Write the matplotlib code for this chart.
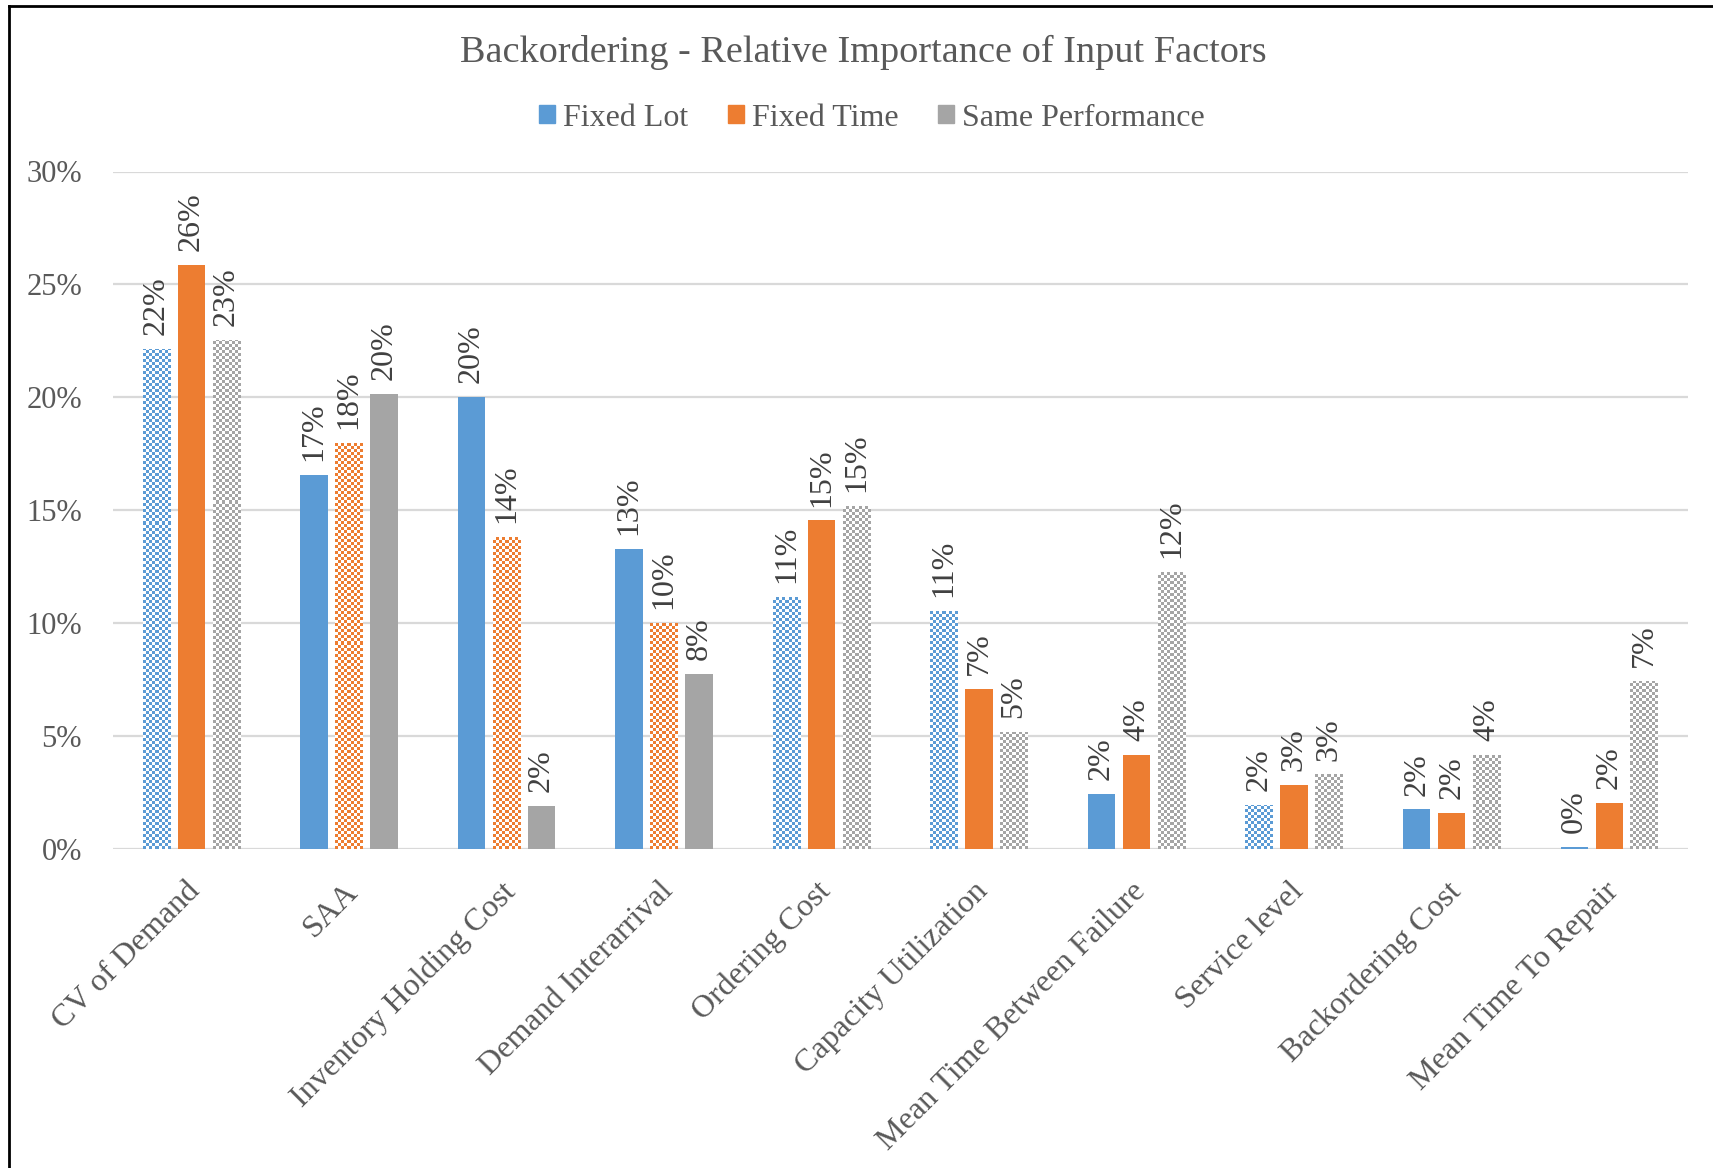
import numpy as np
import matplotlib
matplotlib.use("Agg")
import matplotlib.pyplot as plt
from matplotlib.patches import Rectangle
from matplotlib.lines import Line2D

categories = ["CV of Demand", "SAA", "Inventory Holding Cost", "Demand Interarrival",
              "Ordering Cost", "Capacity Utilization", "Mean Time Between Failure",
              "Service level", "Backordering Cost", "Mean Time To Repair"]
series_names = ["Fixed Lot", "Fixed Time", "Same Performance"]
fixed_lot = [22.15, 16.55, 20.0, 13.3, 11.15, 10.55, 2.45, 1.95, 1.75, 0.1]
fixed_time = [25.85, 18.0, 13.8, 10.0, 14.55, 7.1, 4.15, 2.85, 1.6, 2.05]
same_perf = [22.55, 20.15, 1.9, 7.75, 15.2, 5.2, 12.25, 3.3, 4.15, 7.45]
# which bars are drawn with a checkered fill
checked_lot = [1, 0, 0, 0, 1, 1, 0, 1, 0, 0]
checked_time = [0, 1, 1, 1, 0, 0, 0, 0, 0, 0]
checked_same = [1, 0, 0, 0, 1, 1, 1, 1, 1, 1]
yticks = [0, 5, 10, 15, 20, 25, 30]

colors = ["#5B9BD5", "#ED7D31", "#A5A5A5"]
TXT = "#595959"
LBL = "#404040"
plt.rcParams['font.family'] = ['Liberation Serif', 'DejaVu Serif']

W, H = 1713, 1168
fig = plt.figure(figsize=(W / 100, H / 100), dpi=100)
ax = fig.add_axes([112.5 / W, 1 - 849 / H, (1688 - 112.5) / W, (849 - 171.5) / H])
ax.set_xlim(-0.5, len(categories) - 0.5)
ax.set_ylim(0, 30)

for s in ax.spines.values():
    s.set_visible(False)
ax.set_yticks(yticks)
ax.set_yticklabels([f"{t}%" for t in yticks], fontsize=22, color=TXT)
ax.tick_params(axis='y', length=0, pad=22)
ax.tick_params(axis='x', length=0)
ax.set_xticks([])
ax.grid(axis='y', color='#D9D9D9', linewidth=1.6)
ax.set_axisbelow(True)

x = np.arange(len(categories))
step = 0.222
bw = 0.174
all_vals = [fixed_lot, fixed_time, same_perf]
all_chk = [checked_lot, checked_time, checked_same]

def px_per_unit():
    p0 = ax.transData.transform((0, 0))
    p1 = ax.transData.transform((1, 1))
    return p1[0] - p0[0], p1[1] - p0[1]

cell = 3.0
for k in range(3):
    xs = x + (k - 1) * step
    bars = ax.bar(xs, all_vals[k], width=bw, color=colors[k], zorder=2, linewidth=0)
    for i, b in enumerate(bars):
        v = all_vals[k][i]
        if all_chk[k][i]:
            b.set_facecolor("white")
            sx, sy = px_per_unit()
            wpx = bw * sx
            hpx = v * sy
            nx = max(1, int(round(wpx / cell)))
            ny = max(1, int(round(hpx / cell)))
            board = (np.add.outer(np.arange(ny), np.arange(nx)) % 2)
            rgb = np.array(matplotlib.colors.to_rgb(colors[k]))
            img = np.where(board[..., None] == 0, rgb, np.ones(3))
            im = ax.imshow(img, extent=(b.get_x(), b.get_x() + b.get_width(),
                                        0, ny * cell / sy),
                           origin='lower', interpolation='nearest', aspect='auto',
                           zorder=2.5)
            im.set_clip_path(b)
        ax.annotate(f"{v:.0f}%", xy=(b.get_x() + b.get_width() / 2, v),
                    xytext=(0, 10), textcoords='offset points', rotation=90,
                    ha='center', va='bottom', fontsize=23, color=LBL)

ax.set_xlim(-0.5, len(categories) - 0.5)
ax.set_ylim(0, 30)

for i, c in enumerate(categories):
    ax.annotate(c, xy=(i, 0), xycoords=('data', 'axes fraction'),
                xytext=(-4, -20), textcoords='offset points', rotation=45,
                ha='right', va='top', rotation_mode='anchor', fontsize=23, color=TXT)

fig.text(0.5 * (421 + 1159) * 1.0925 / W, 1 - 52 / H,
         "Backordering - Relative Importance of Input Factors",
         ha='center', va='center', fontsize=27.5, color=TXT)

handles = [Rectangle((0, 0), 1, 1, color=c) for c in colors]
fig.legend(handles, series_names, loc='center', bbox_to_anchor=(872 / W, 1 - 118 / H),
           ncol=3, frameon=False, fontsize=23, labelcolor=TXT,
           handlelength=0.5, handleheight=0.5, handletextpad=0.25, columnspacing=1.25)

# outer frame (top and left edges visible)
fig.add_artist(Line2D([8.5 / W, 8.5 / W], [0, 1 - 6 / H], color='black', lw=2,
                      transform=fig.transFigure))
fig.add_artist(Line2D([8.5 / W, 1], [1 - 6 / H, 1 - 6 / H], color='black', lw=2,
                      transform=fig.transFigure))

fig.savefig("out.png", dpi=100, facecolor='white')
